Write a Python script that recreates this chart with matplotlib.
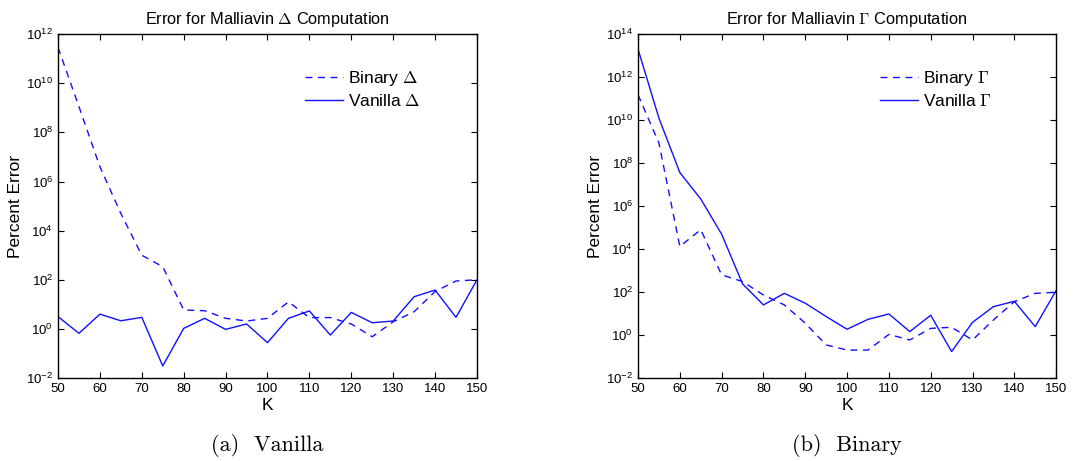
import numpy as np
import matplotlib
matplotlib.use("Agg")
import matplotlib.pyplot as plt
from matplotlib.ticker import LogLocator, NullLocator

plt.rcParams['font.family'] = ['Liberation Sans', 'DejaVu Sans']
plt.rcParams['mathtext.fontset'] = 'cm'

# strike values
K = [50, 55, 60, 65, 70, 75, 80, 85, 90, 95, 100,
     105, 110, 115, 120, 125, 130, 135, 140, 145, 150]

# log10 of percent error
delta_binary_log = [11.46, 9.05, 6.6, 4.7, 3.0, 2.53, 0.77, 0.74, 0.43, 0.32, 0.43,
                    1.1, 0.46, 0.46, 0.2, -0.32, 0.29, 0.7, 1.52, 1.95, 2.0]
delta_vanilla_log = [0.5, -0.18, 0.6, 0.33, 0.47, -1.51, 0.02, 0.43, -0.02, 0.2, -0.56,
                     0.43, 0.73, -0.25, 0.67, 0.25, 0.32, 1.31, 1.58, 0.47, 2.0]
gamma_binary_log = [11.18, 8.93, 4.12, 4.9, 2.8, 2.49, 1.86, 1.4, 0.55, -0.46, -0.7,
                    -0.7, 0.03, -0.23, 0.31, 0.36, -0.23, 0.7, 1.55, 1.94, 1.99]
gamma_vanilla_log = [13.3, 10.09, 7.56, 6.33, 4.69, 2.38, 1.4, 1.94, 1.48, 0.86, 0.27,
                     0.73, 0.98, 0.16, 0.92, -0.77, 0.59, 1.32, 1.57, 0.39, 2.07]

panels = [
    dict(title=r"Error for Malliavin $\Delta$ Computation", sym=r"$\Delta$",
         binary=delta_binary_log, vanilla=delta_vanilla_log, ytop=12,
         caption="(a)  Vanilla", rect=[0.0534, 0.180, 0.3858, 0.746], leg_x=0.903),
    dict(title=r"Error for Malliavin $\Gamma$ Computation", sym=r"$\Gamma$",
         binary=gamma_binary_log, vanilla=gamma_vanilla_log, ytop=14,
         caption="(b)  Binary", rect=[0.5875, 0.180, 0.3850, 0.746], leg_x=0.885),
]

fig = plt.figure(figsize=(10.86, 4.61), dpi=100)

for p in panels:
    ax = fig.add_axes(p["rect"])
    ax.semilogy(K, 10 ** np.array(p["binary"]), '--', color='#1010ff', lw=1.0,
                dashes=(5, 4), label="Binary " + p["sym"])
    ax.semilogy(K, 10 ** np.array(p["vanilla"]), '-', color='#1010ff', lw=1.0,
                label="Vanilla " + p["sym"])
    ax.set_xlim(50, 150)
    ax.set_ylim(1e-2, 10.0 ** p["ytop"])
    ax.set_xticks(range(50, 151, 10))
    ax.yaxis.set_major_locator(LogLocator(base=100))
    ax.yaxis.set_minor_locator(NullLocator())
    ax.tick_params(direction='in', top=True, right=True, labelsize=9.5, length=4)
    ax.set_title(p["title"], fontsize=11.8, pad=7)
    ax.set_xlabel("K", fontsize=12.5, labelpad=2)
    ax.set_ylabel("Percent Error", fontsize=12.5, labelpad=2)
    for s in ax.spines.values():
        s.set_linewidth(1.0)
    ax.legend(loc='upper right', bbox_to_anchor=(p["leg_x"], 0.945), frameon=False,
              fontsize=12.5, handlelength=2.2, handletextpad=0.3, labelspacing=0.3)
    x0 = p["rect"][0] + p["rect"][2] / 2
    fig.text(x0, 0.008, p["caption"], ha='center', va='bottom', fontsize=16,
             family=['cmr10', 'DejaVu Serif'])

plt.savefig("out.png", dpi=100)
